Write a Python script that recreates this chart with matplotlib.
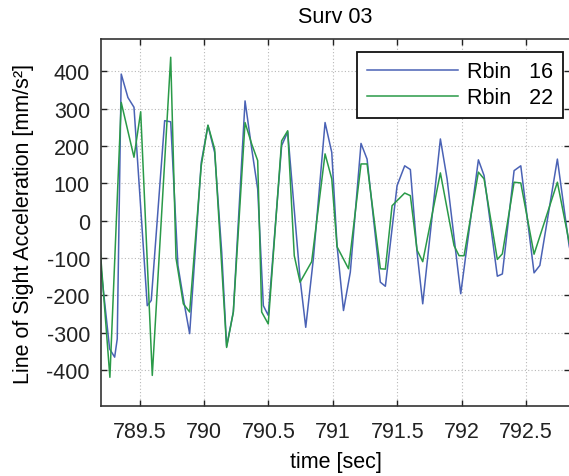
"""
Line of sight acceleration for Surv 03, range bins 16 and 22.
"""

import matplotlib
matplotlib.use('Agg')
import matplotlib.pyplot as plt

# sample times [sec] and accelerations [mm/s^2]
T_RBIN16 = [789.190, 789.267, 789.306, 789.326, 789.357, 789.409, 789.456, 789.559,
            789.590, 789.694, 789.741, 789.797, 789.844, 789.888, 789.978, 790.030,
            790.082, 790.137, 790.175, 790.227, 790.318, 790.370, 790.416, 790.460,
            790.498, 790.602, 790.649, 790.745, 790.789, 790.848, 790.939, 790.991,
            791.032, 791.082, 791.135, 791.218, 791.265, 791.368, 791.407, 791.498,
            791.557, 791.601, 791.653, 791.697, 791.834, 791.886, 791.992, 792.129,
            792.173, 792.276, 792.315, 792.406, 792.458, 792.561, 792.606, 792.742,
            792.833, 792.880]
A_RBIN16 = [-95, -344, -366, -317, 393, 330, 304, -228,
            -214, 268, 265, -120, -219, -303, 156, 255,
            183, -85, -337, -245, 321, 192, 85, -228,
            -254, 201, 238, -156, -286, -103, 263, 183,
            -67, -241, -138, 207, 165, -165, -176, 94,
            147, 137, -85, -223, 219, 112, -196, 163,
            121, -149, -143, 134, 147, -140, -120, 165,
            -67, -140]

T_RBIN22 = [789.190, 789.269, 789.357, 789.456, 789.508, 789.598, 789.741, 789.782,
            789.839, 789.888, 789.978, 790.030, 790.082, 790.175, 790.227, 790.318,
            790.370, 790.416, 790.447, 790.498, 790.602, 790.649, 790.700, 790.745,
            790.835, 790.939, 790.991, 791.032, 791.121, 791.218, 791.265, 791.368,
            791.407, 791.459, 791.557, 791.601, 791.653, 791.697, 791.834, 791.940,
            791.979, 792.018, 792.129, 792.173, 792.276, 792.315, 792.406, 792.458,
            792.561, 792.742, 792.833, 792.880]
A_RBIN22 = [-60, -420, 317, 170, 292, -415, 438, -100,
            -223, -245, 147, 256, 192, -340, -245, 263,
            205, 161, -245, -277, 214, 241, -94, -165,
            -110, 179, 112, -70, -129, 152, 152, -129,
            -130, 40, 74, 67, -79, -110, 128, -67,
            -94, -94, 130, 112, -104, -89, 103, 101,
            -90, 103, -57, -120]

XTICKS = [789.5, 790, 790.5, 791, 791.5, 792, 792.5]
XTICK_LABELS = ['789.5', '790', '790.5', '791', '791.5', '792', '792.5']
YTICKS = [-400, -300, -200, -100, 0, 100, 200, 300, 400]
YTICK_LABELS = ['-400', '-300', '-200', '-100', '0', '100', '200', '300', '400']

plt.rcParams['font.family'] = ['Liberation Sans', 'DejaVu Sans']

W, H = 569, 477


def main():
	fig = plt.figure(figsize=(W / 100, H / 100), dpi=100)
	# axes box in pixels: left 101, right ~570 (cut off), top 40, bottom 407
	ax = fig.add_axes([101 / W, (H - 407) / H, 469 / W, 367 / H])

	ax.plot(T_RBIN16, A_RBIN16, color='#4a62b5', linewidth=1.1, label='Rbin   16')
	ax.plot(T_RBIN22, A_RBIN22, color='#2a9a48', linewidth=1.1, label='Rbin   22')

	ax.set_xlim(789.2, 792.84)
	ax.set_ylim(-497, 487)
	ax.set_xticks(XTICKS)
	ax.set_xticklabels(XTICK_LABELS)
	ax.set_yticks(YTICKS)
	ax.set_yticklabels(YTICK_LABELS)

	ax.grid(True, linestyle=(0, (1, 2)), color='#b8b8b8', linewidth=0.8)
	ax.tick_params(direction='in', length=4, width=1, top=True, right=True,
	               labelsize=15.5, colors='#222222')
	ax.tick_params(axis='x', pad=11)
	ax.tick_params(axis='y', pad=8)
	for sp in ax.spines.values():
		sp.set_linewidth(1.2)
		sp.set_color('#333333')

	ax.set_title('Surv 03', fontsize=15.5, pad=12)
	ax.set_xlabel('time [sec]', fontsize=15.5, labelpad=6)
	ax.set_ylabel('Line of Sight Acceleration [mm/s²]', fontsize=15.5, labelpad=9)

	leg = ax.legend(loc='upper right', bbox_to_anchor=(563 / W, 1 - 52.7 / H),
	                bbox_transform=fig.transFigure, borderaxespad=0,
	                fontsize=15.5, handlelength=4.2, handletextpad=0.45,
	                labelspacing=0.22, borderpad=0.45, fancybox=False)
	leg.get_frame().set_edgecolor('#111111')
	leg.get_frame().set_linewidth(1.3)
	leg.get_frame().set_alpha(1)

	fig.savefig('out.png', dpi=100)
	plt.close(fig)


if __name__ == '__main__':
	main()
